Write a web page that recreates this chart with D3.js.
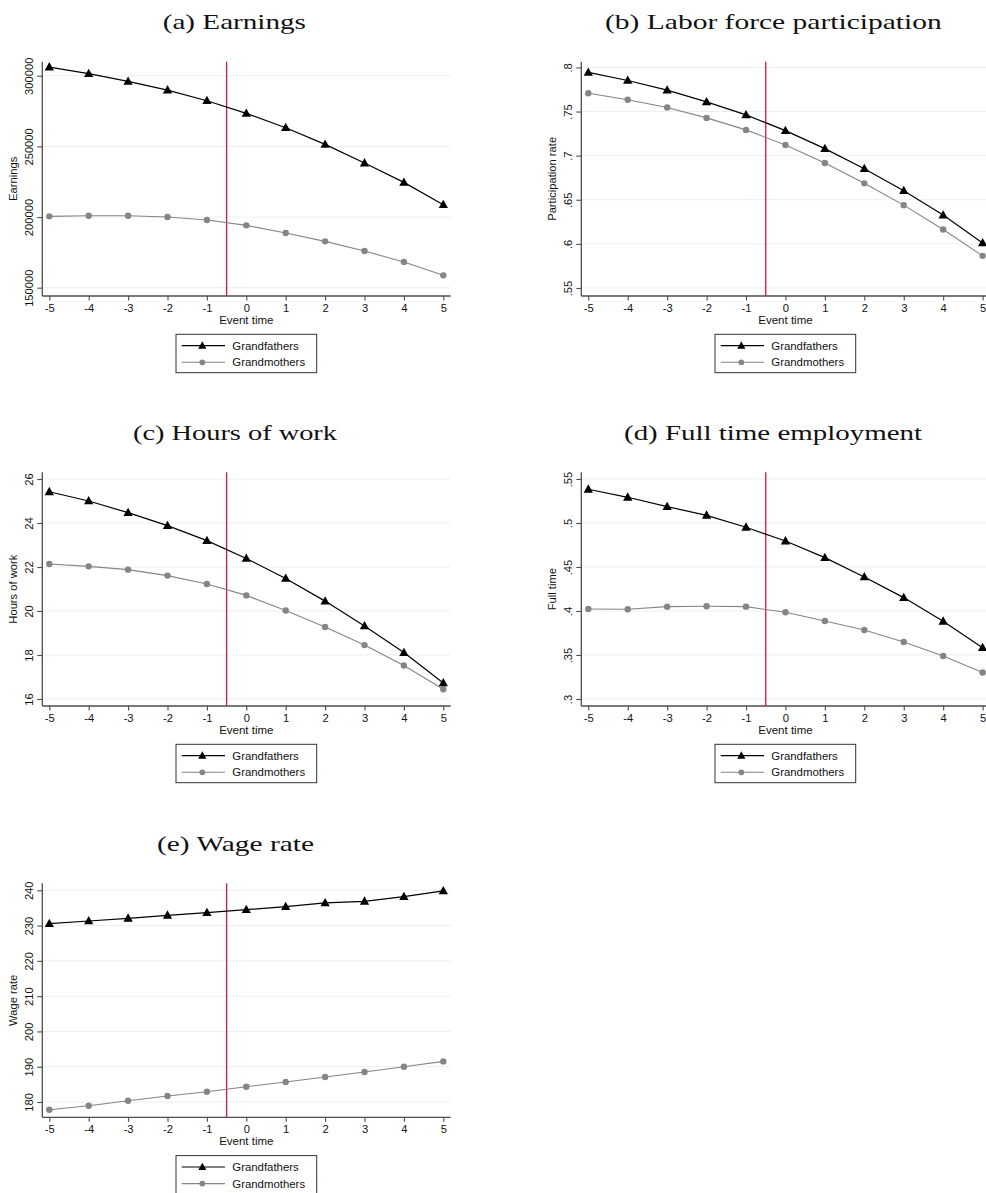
<!DOCTYPE html>
<html>
<head>
<meta charset="utf-8">
<script src="https://cdn.jsdelivr.net/npm/d3@7"></script>
<style>
  html, body { margin: 0; padding: 0; background: #fff; }
  svg { display: block; }
</style>
</head>
<body>
<svg id="chart" width="986" height="1193"></svg>
<script>
// Event time relative to the birth of the first grandchild
const eventTime = [-5, -4, -3, -2, -1, 0, 1, 2, 3, 4, 5];
const seriesNames = ["Grandfathers", "Grandmothers"];

// (a) Earnings
const earningsGrandfathers = [306130, 301420, 295990, 289860, 282310, 273350, 263210, 251420, 238210, 224530, 208730];
const earningsGrandmothers = [200470, 200940, 200940, 200000, 197880, 194100, 188680, 182780, 175940, 168160, 158730];
const earningsTicks = [150000, 200000, 250000, 300000];

// (b) Labor force participation
const participationGrandfathers = [0.7943, 0.7852, 0.7742, 0.7610, 0.7462, 0.7284, 0.7080, 0.6852, 0.6602, 0.6326, 0.6011];
const participationGrandmothers = [0.7708, 0.7633, 0.7545, 0.7428, 0.7292, 0.7121, 0.6917, 0.6686, 0.6439, 0.6163, 0.5864];
const participationTicks = [0.55, 0.6, 0.65, 0.7, 0.75, 0.8];

// (c) Hours of work
const hoursGrandfathers = [25.42, 25.00, 24.47, 23.88, 23.20, 22.39, 21.48, 20.45, 19.32, 18.11, 16.73];
const hoursGrandmothers = [22.14, 22.03, 21.88, 21.61, 21.23, 20.71, 20.02, 19.27, 18.45, 17.52, 16.44];
const hoursTicks = [16, 18, 20, 22, 24, 26];

// (d) Full time employment
const fullTimeGrandfathers = [0.5383, 0.5292, 0.5186, 0.5087, 0.4951, 0.4795, 0.4606, 0.4386, 0.4152, 0.3883, 0.3583];
const fullTimeGrandmothers = [0.4023, 0.4019, 0.4049, 0.4053, 0.4049, 0.3985, 0.3886, 0.3784, 0.3648, 0.3489, 0.3300];
const fullTimeTicks = [0.3, 0.35, 0.4, 0.45, 0.5, 0.55];

// (e) Wage rate
const wageGrandfathers = [230.55, 231.30, 232.06, 232.91, 233.67, 234.52, 235.37, 236.41, 236.88, 238.20, 239.81];
const wageGrandmothers = [177.80, 178.94, 180.36, 181.68, 182.91, 184.33, 185.65, 187.07, 188.49, 190.00, 191.51];
const wageTicks = [180, 190, 200, 210, 220, 230, 240];

// Vertical marker between pre- and post-event periods
const eventLine = -0.5;

// Stata-style decimals: drop the leading zero
const fmtDecimal = v => String(v).replace(/^0\./, ".");
const fmtPlain = v => String(v);

const panels = [
  { title: "(a) Earnings", yLabel: "Earnings", gf: earningsGrandfathers, gm: earningsGrandmothers,
    ticks: earningsTicks, fmt: fmtPlain, domain: [144119, 309920], col: 0, row: 0, titleSpan: [162.7, 306] },
  { title: "(b) Labor force participation", yLabel: "Participation rate", gf: participationGrandfathers, gm: participationGrandmothers,
    ticks: participationTicks, fmt: fmtDecimal, domain: [0.5409, 0.8065], col: 1, row: 0, titleSpan: [605, 941.7] },
  { title: "(c) Hours of work", yLabel: "Hours of work", gf: hoursGrandfathers, gm: hoursGrandmothers,
    ticks: hoursTicks, fmt: fmtPlain, domain: [15.682, 26.305], col: 0, row: 1, titleSpan: [133, 337] },
  { title: "(d) Full time employment", yLabel: "Full time", gf: fullTimeGrandfathers, gm: fullTimeGrandmothers,
    ticks: fullTimeTicks, fmt: fmtDecimal, domain: [0.292, 0.5576], col: 1, row: 1, titleSpan: [624, 922] },
  { title: "(e) Wage rate", yLabel: "Wage rate", gf: wageGrandfathers, gm: wageGrandmothers,
    ticks: wageTicks, fmt: fmtPlain, domain: [175.66, 241.98], col: 0, row: 2, titleSpan: [157, 314] }
];

// Frame geometry of the plot regions
const frameLeft = [42.3, 581.3];
const frameRight = [450.7, 990];
const frameTop = [61.7, 472.3, 883.3];
const frameBottom = [296, 706, 1117.3];
const titleBaseline = [29, 439.5, 850.5];

const sansFont = "'Liberation Sans', Arial, Helvetica, sans-serif";
const serifFont = "'Liberation Serif', 'Times New Roman', serif";
const axisColor = "#4d4d4d";
const gridColor = "#e9f0f1";
const eventColor = "#d3144a";
const gfColor = "#000000";
const gmColor = "#858585";

const svg = d3.select("#chart");

const trianglePath = (s) => `M0,${-s * 0.62}L${s * 0.58},${s * 0.42}L${-s * 0.58},${s * 0.42}Z`;

panels.forEach(p => {
  const L = frameLeft[p.col], R = frameRight[p.col];
  const T = frameTop[p.row], B = frameBottom[p.row];

  const x = d3.scaleLinear().domain([-5, 5]).range([L + 7, R - 7.4]);
  const y = d3.scaleLinear().domain(p.domain).range([B, T]);

  const g = svg.append("g");

  // Title
  const tCenter = (p.titleSpan[0] + p.titleSpan[1]) / 2;
  g.append("text")
    .attr("x", tCenter).attr("y", titleBaseline[p.row])
    .attr("text-anchor", "middle")
    .attr("font-family", serifFont).attr("font-size", 21.5)
    .attr("textLength", p.titleSpan[1] - p.titleSpan[0])
    .attr("lengthAdjust", "spacingAndGlyphs")
    .attr("fill", "#111")
    .text(p.title);

  // Gridlines
  g.append("g").selectAll("line").data(p.ticks).join("line")
    .attr("x1", L).attr("x2", R)
    .attr("y1", d => y(d)).attr("y2", d => y(d))
    .attr("stroke", gridColor).attr("stroke-width", 1);

  // Y axis
  const yAxis = d3.axisLeft(y).tickValues(p.ticks).tickSize(5).tickPadding(4).tickFormat(p.fmt);
  const ya = g.append("g").attr("transform", `translate(${L},0)`).call(yAxis);
  ya.select(".domain").attr("d", `M0,${T}V${B}`).attr("stroke", axisColor).attr("stroke-width", 1.3);
  ya.selectAll(".tick line").attr("stroke", axisColor).attr("stroke-width", 1.1);
  ya.selectAll(".tick text")
    .attr("font-family", sansFont).attr("font-size", 11.2).attr("fill", "#111")
    .attr("x", null).attr("dy", null)
    .attr("text-anchor", "middle")
    .attr("transform", "translate(-9,0) rotate(-90)")
    .attr("y", 0);

  // X axis
  const xAxis = d3.axisBottom(x).tickValues(eventTime).tickSize(4.5).tickPadding(3).tickFormat(d3.format("d"));
  const xa = g.append("g").attr("transform", `translate(0,${B})`).call(xAxis);
  xa.select(".domain").attr("d", `M${L},0H${R}`).attr("stroke", axisColor).attr("stroke-width", 1.3);
  xa.selectAll(".tick line").attr("stroke", axisColor).attr("stroke-width", 1.1);
  xa.selectAll(".tick text")
    .attr("font-family", sansFont).attr("font-size", 11.2).attr("fill", "#111")
    .attr("dy", null).attr("y", 15.5)
    .text(d => d < 0 ? "-" + Math.abs(d) : String(d));

  // Axis titles
  g.append("text")
    .attr("x", (x(-5) + x(5)) / 2).attr("y", B + 28)
    .attr("text-anchor", "middle")
    .attr("font-family", sansFont).attr("font-size", 11.5).attr("fill", "#111")
    .text("Event time");
  g.append("text")
    .attr("transform", `translate(${L - 25},${(T + B) / 2}) rotate(-90)`)
    .attr("text-anchor", "middle")
    .attr("font-family", sansFont).attr("font-size", 11.2).attr("fill", "#111")
    .text(p.yLabel);

  // Event marker
  g.append("line")
    .attr("x1", x(eventLine)).attr("x2", x(eventLine))
    .attr("y1", T).attr("y2", B)
    .attr("stroke", eventColor).attr("stroke-width", 1.3);

  const line = d3.line().x((d, i) => x(eventTime[i])).y(d => y(d));

  // Grandmothers
  g.append("path").datum(p.gm).attr("d", line)
    .attr("fill", "none").attr("stroke", gmColor).attr("stroke-width", 1.1);
  g.append("g").selectAll("circle").data(p.gm).join("circle")
    .attr("cx", (d, i) => x(eventTime[i])).attr("cy", d => y(d))
    .attr("r", 3.2).attr("fill", gmColor);

  // Grandfathers
  g.append("path").datum(p.gf).attr("d", line)
    .attr("fill", "none").attr("stroke", gfColor).attr("stroke-width", 1.2);
  g.append("g").selectAll("path").data(p.gf).join("path")
    .attr("transform", (d, i) => `translate(${x(eventTime[i])},${y(d)})`)
    .attr("d", trianglePath(8))
    .attr("fill", gfColor);

  // Legend
  const bx = L + 133.7, by = B + 38.3, bw = 140.7, bh = 38.4;
  const lg = g.append("g");
  lg.append("rect").attr("x", bx).attr("y", by).attr("width", bw).attr("height", bh)
    .attr("fill", "#fff").attr("stroke", "#333").attr("stroke-width", 1);
  const rows = [
    { name: seriesNames[0], color: gfColor, w: 1.2, cy: B + 49.7, shape: "tri" },
    { name: seriesNames[1], color: gmColor, w: 1.1, cy: B + 66.3, shape: "circ" }
  ];
  rows.forEach(r => {
    lg.append("line").attr("x1", bx + 5.7).attr("x2", bx + 49)
      .attr("y1", r.cy).attr("y2", r.cy)
      .attr("stroke", r.color).attr("stroke-width", r.w);
    if (r.shape === "tri") {
      lg.append("path").attr("transform", `translate(${bx + 26.3},${r.cy})`)
        .attr("d", trianglePath(7)).attr("fill", r.color);
    } else {
      lg.append("circle").attr("cx", bx + 26.3).attr("cy", r.cy).attr("r", 2.9).attr("fill", r.color);
    }
    lg.append("text").attr("x", bx + 56.3).attr("y", r.cy + 4)
      .attr("font-family", sansFont).attr("font-size", 11.4).attr("fill", "#111")
      .text(r.name);
  });
});
</script>
</body>
</html>
